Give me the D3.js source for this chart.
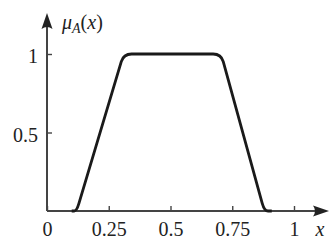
<!DOCTYPE html>
<html>
  <head>
    <meta charset="utf-8">
    <script src="https://d3js.org/d3.v7.min.js"></script>
  </head>
  <body style="margin:0;background:#fff">
    <svg id="chart" width="332" height="244" style="display:block"></svg>
    <script>
      // trapezoid corners
      var xs = [0.1, 0.12, 0.31, 0.705, 0.88, 0.91];
      var mu = [0, 0, 1, 1, 0, 0];
      var xTicks = [0, 0.25, 0.5, 0.75, 1];
      var xTickLabels = ["0", "0.25", "0.5", "0.75", "1"];
      var yTicks = [0.5, 1];
      var yTickLabels = ["0.5", "1"];

      var fontFam = "Liberation Serif";
      var svg = d3.select("#chart");
      var x = d3.scaleLinear().domain([0, 1]).range([47, 294]);
      var y = d3.scaleLinear().domain([0, 1]).range([211, 54]);
      var axisCol = "#444";

      // x ticks and labels
      var gx = svg.append("g")
        .attr("transform", "translate(0," + y(0) + ")")
        .call(d3.axisBottom(x).tickValues(xTicks)
          .tickFormat(function(d, i) { return xTickLabels[i]; })
          .tickSize(-5).tickPadding(11));
      gx.select(".domain").remove();

      // y ticks and labels
      var gy = svg.append("g")
        .attr("transform", "translate(" + x(0) + ",0)")
        .call(d3.axisLeft(y).tickValues(yTicks)
          .tickFormat(function(d, i) { return yTickLabels[i]; })
          .tickSize(-5).tickPadding(9));
      gy.select(".domain").remove();

      gx.attr("font-family", fontFam).attr("font-size", 20);
      gy.attr("font-family", fontFam).attr("font-size", 20);
      svg.selectAll(".tick line").attr("stroke", axisCol).attr("stroke-width", 1.4);
      svg.selectAll(".tick text").attr("fill", "#222");
      gx.selectAll("text").attr("dy", "0.71em");
      gy.selectAll("text").attr("dy", "0.44em");

      // axis lines with arrow heads
      svg.append("line")
        .attr("x1", x(0)).attr("y1", y(0))
        .attr("x2", 316).attr("y2", y(0))
        .attr("stroke", axisCol).attr("stroke-width", 2);
      svg.append("line")
        .attr("x1", x(0)).attr("y1", y(0))
        .attr("x2", x(0)).attr("y2", 26)
        .attr("stroke", axisCol).attr("stroke-width", 2);
      var ax = 329, ay = y(0);
      svg.append("path")
        .attr("d", "M" + ax + "," + ay + " L" + (ax - 16) + "," + (ay - 5.5)
          + " Q" + (ax - 12) + "," + ay + " " + (ax - 16) + "," + (ay + 5.5) + " Z")
        .attr("fill", "#222");
      var bx = x(0), by = 13;
      svg.append("path")
        .attr("d", "M" + bx + "," + by + " L" + (bx - 5.5) + "," + (by + 16)
          + " Q" + bx + "," + (by + 12) + " " + (bx + 5.5) + "," + (by + 16) + " Z")
        .attr("fill", "#222");

      // membership curve with rounded corners
      var pts = xs.map(function(d, i) { return [x(d), y(mu[i])]; });
      var r = 8;
      var d = "M" + pts[0][0] + "," + pts[0][1];
      for (var i = 1; i < pts.length - 1; i++) {
        var p = pts[i], a = pts[i - 1], b = pts[i + 1];
        var la = Math.hypot(a[0] - p[0], a[1] - p[1]);
        var lb = Math.hypot(b[0] - p[0], b[1] - p[1]);
        var ra = Math.min(r, la / 2), rb = Math.min(r, lb / 2);
        var p1 = [p[0] + (a[0] - p[0]) * ra / la, p[1] + (a[1] - p[1]) * ra / la];
        var p2 = [p[0] + (b[0] - p[0]) * rb / lb, p[1] + (b[1] - p[1]) * rb / lb];
        d += " L" + p1[0] + "," + p1[1] + " Q" + p[0] + "," + p[1] + " " + p2[0] + "," + p2[1];
      }
      d += " L" + pts[pts.length - 1][0] + "," + pts[pts.length - 1][1];
      svg.append("path")
        .attr("d", d)
        .attr("fill", "none")
        .attr("stroke", "#1a1a1a")
        .attr("stroke-width", 2.8)
        .attr("stroke-linejoin", "round");

      // axis names
      var yl = svg.append("text")
        .attr("x", 62).attr("y", 29)
        .attr("font-family", fontFam).attr("font-size", 20).attr("fill", "#222");
      yl.append("tspan").attr("font-style", "italic").text("μ");
      yl.append("tspan").attr("font-style", "italic").attr("font-size", 14).attr("dy", 4).text("A");
      yl.append("tspan").attr("dy", -4).text("(");
      yl.append("tspan").attr("font-style", "italic").text("x");
      yl.append("tspan").text(")");
      svg.append("text")
        .attr("x", 320).attr("y", 236)
        .attr("text-anchor", "middle")
        .attr("font-family", fontFam).attr("font-size", 20).attr("fill", "#222")
        .attr("font-style", "italic")
        .text("x");
    </script>
  </body>
</html>
